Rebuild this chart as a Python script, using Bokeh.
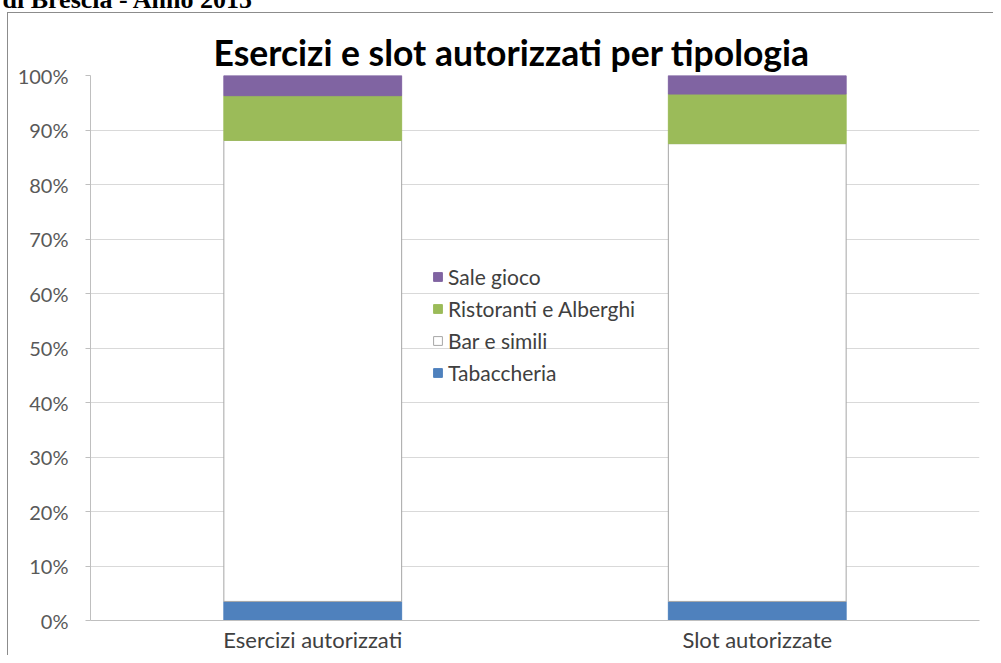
from bokeh.plotting import figure
from bokeh.models import (ColumnDataSource, FactorRange, Range1d, FixedTicker,
                          NumeralTickFormatter, Legend, LegendItem, Title)
from bokeh.embed import file_html
from bokeh.resources import INLINE

categories = ["Esercizi autorizzati", "Slot autorizzate"]
tabaccheria = [0.035, 0.035]
bar_simili = [0.846, 0.840]
ristoranti = [0.082, 0.091]
sale_gioco = [0.037, 0.034]
series_names = ["Tabaccheria", "Bar e simili", "Ristoranti e Alberghi", "Sale gioco"]
series_keys = ["tab", "bar", "rist", "sale"]
colors = ["#4f81bd", "#ffffff", "#9bbb59", "#8064a2"]
line_colors = ["#4f81bd", "#a6a6a6", "#9bbb59", "#8064a2"]
y_ticks = [0.0, 0.1, 0.2, 0.3, 0.4, 0.5, 0.6, 0.7, 0.8, 0.9, 1.0]
title_text = "Esercizi e slot autorizzati per tipologia"
top_text = "di Brescia - Anno 2015"

source = ColumnDataSource(dict(cat=categories, tab=tabaccheria, bar=bar_simili,
                               rist=ristoranti, sale=sale_gioco))

W, H = 993, 655
FL, FR, FT, FB = 90, 979, 75, 621

p = figure(width=W, height=H, x_range=FactorRange(*categories, range_padding=0),
           y_range=Range1d(0, 1), output_backend="svg", toolbar_location=None,
           min_border_left=FL, min_border_right=W - FR, min_border_top=FT,
           min_border_bottom=H - FB)
p.styles = {
    "background-image": "linear-gradient(#8c8c8c, #8c8c8c), linear-gradient(#8c8c8c, #8c8c8c)",
    "background-position": "7px 12px, 7px 12px",
    "background-size": "1px 100%, 100% 1px",
    "background-repeat": "no-repeat, no-repeat",
}
p.outline_line_color = None
p.background_fill_color = "white"
p.border_fill_color = None

renderers = p.vbar_stack(series_keys, x="cat", width=0.40, source=source,
                         fill_color=colors, line_color=line_colors, line_width=1)

p.xgrid.grid_line_color = None
p.ygrid.grid_line_color = "#d9d9d9"
p.ygrid.ticker = FixedTicker(ticks=y_ticks)
p.yaxis.ticker = FixedTicker(ticks=y_ticks)
p.yaxis.formatter = NumeralTickFormatter(format="0%")
p.yaxis.axis_line_color = "#bfbfbf"
p.yaxis.major_tick_line_color = "#bfbfbf"
p.yaxis.major_tick_out = 5
p.yaxis.major_tick_in = 0
p.yaxis.minor_tick_line_color = None
p.yaxis.major_label_text_font = "Lato"
p.yaxis.major_label_text_font_size = "20px"
p.yaxis.major_label_text_color = "#595959"
p.yaxis.major_label_standoff = 17

p.xaxis.axis_line_color = "#bfbfbf"
p.xaxis.major_tick_line_color = None
p.xaxis.major_tick_out = 0
p.xaxis.major_tick_in = 0
p.xaxis.major_label_text_font = "Lato"
p.xaxis.major_label_text_font_size = "22px"
p.xaxis.major_label_text_color = "#404040"
p.xaxis.major_label_standoff = 5

items = [LegendItem(label=series_names[i], renderers=[renderers[i]]) for i in [3, 2, 1, 0]]
legend = Legend(items=items, location=(342, 235), padding=0, margin=0,
                border_line_color=None, background_fill_alpha=0,
                label_text_font="Lato", label_text_font_size="21px",
                label_text_color="#404040", glyph_width=11, glyph_height=11,
                label_height=22, spacing=7, label_standoff=5)
p.add_layout(legend, "center")

p.title.text = ""
p.title.standoff = 0

main_title = Title(text=title_text, align="left", offset=123, text_font="Lato",
                   text_font_style="bold", text_font_size="35.5px", text_color="#000000",
                   vertical_align="top", standoff=0)
spacer = Title(text=" ", align="left", offset=0, text_font="Lato", text_font_size="20px",
               vertical_align="top", standoff=4)
top_title = Title(text=top_text, align="left", offset=2 - FL, text_font="Liberation Serif",
                  text_font_style="bold", text_font_size="26px", text_color="#000000",
                  vertical_align="top", standoff=-32)
# first entry is nearest the frame
p.above = [main_title, spacer, top_title]

open("out.html", "w").write(file_html(p, INLINE))
